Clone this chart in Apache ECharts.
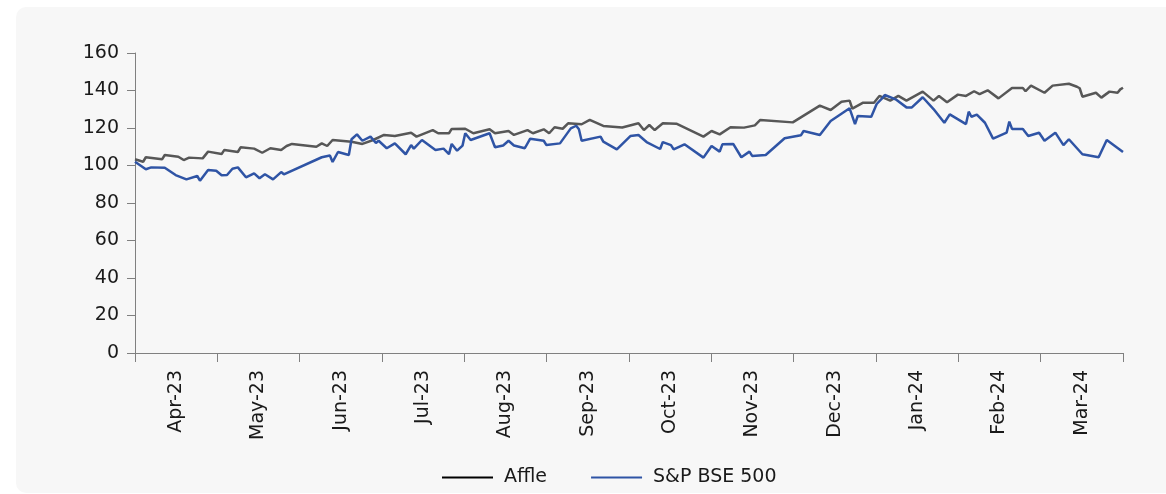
<!DOCTYPE html>
<html>
<head>
<meta charset="utf-8">
<title>Affle vs S&amp;P BSE 500</title>
<script src="https://cdn.jsdelivr.net/npm/echarts@6/dist/echarts.min.js"></script>
<style>
  html, body { margin: 0; padding: 0; background: #ffffff; }
  #card { position: absolute; left: 16px; top: 7px; right: 0; bottom: 1px;
          background: #f7f7f7; border-radius: 10px 0 0 10px; }
  #chart { position: absolute; left: 0; top: 0; width: 1166px; height: 494px; }
</style>
</head>
<body>
<div id="card"></div>
<div id="chart"></div>
<script>
// Month labels along the bottom axis
const months = ['Apr-23', 'May-23', 'Jun-23', 'Jul-23', 'Aug-23', 'Sep-23',
                'Oct-23', 'Nov-23', 'Dec-23', 'Jan-24', 'Feb-24', 'Mar-24'];

// Affle, rebased to 100
const affleDates = ['2023-04-01','2023-04-04','2023-04-05','2023-04-11','2023-04-12','2023-04-17','2023-04-19','2023-04-21','2023-04-26','2023-04-28',
  '2023-05-03','2023-05-04','2023-05-09','2023-05-10','2023-05-15','2023-05-18','2023-05-21','2023-05-25','2023-05-27','2023-05-29',
  '2023-06-07','2023-06-09','2023-06-11','2023-06-13','2023-06-20','2023-06-24','2023-06-28',
  '2023-07-02','2023-07-06','2023-07-12','2023-07-14','2023-07-20','2023-07-22','2023-07-26','2023-07-27',
  '2023-08-01','2023-08-04','2023-08-10','2023-08-12','2023-08-17','2023-08-19','2023-08-24','2023-08-26','2023-08-30',
  '2023-09-01','2023-09-03','2023-09-06','2023-09-08','2023-09-13','2023-09-16','2023-09-21','2023-09-28',
  '2023-10-04','2023-10-06','2023-10-08','2023-10-10','2023-10-13','2023-10-18','2023-10-28','2023-10-31',
  '2023-11-03','2023-11-07','2023-11-12','2023-11-16','2023-11-18','2023-11-30',
  '2023-12-10','2023-12-14','2023-12-18','2023-12-21','2023-12-22','2023-12-26','2023-12-30',
  '2024-01-01','2024-01-05','2024-01-08','2024-01-11','2024-01-17','2024-01-21','2024-01-23','2024-01-26','2024-01-30',
  '2024-02-02','2024-02-05','2024-02-07','2024-02-10','2024-02-14','2024-02-19','2024-02-23','2024-02-24','2024-02-26',
  '2024-03-02','2024-03-05','2024-03-11','2024-03-14','2024-03-15','2024-03-16','2024-03-21','2024-03-23','2024-03-26','2024-03-29','2024-03-30','2024-03-31'];
const affleValues = [103.3,102.0,104.4,103.3,105.6,104.7,102.9,104.2,103.8,107.4,
  106.1,108.3,107.2,109.7,109.0,106.8,109.2,108.3,110.4,111.5,
  110.0,111.8,110.4,113.6,112.7,111.5,113.6,
  116.3,115.7,117.5,115.4,118.9,117.2,117.2,119.5,
  119.6,117.2,119.3,117.2,118.4,116.3,118.9,117.2,119.3,
  117.2,120.4,119.6,122.5,122.0,124.3,121.1,120.3,
  122.5,118.9,121.6,118.9,122.5,122.3,115.4,118.4,
  116.6,120.4,120.2,121.4,124.3,123.0,
  131.9,129.6,134.0,134.6,130.3,133.5,133.5,
  137.1,134.6,137.1,134.6,139.4,134.6,137.1,133.7,137.8,
  137.1,139.6,138.1,140.1,135.8,141.3,141.3,139.6,142.6,
  138.8,142.6,143.6,142.0,141.2,136.7,138.8,136.2,139.4,138.8,140.6,141.5];

// S&P BSE 500, rebased to 100
const bseDates = ['2023-04-01','2023-04-05','2023-04-07','2023-04-12','2023-04-16','2023-04-20','2023-04-24','2023-04-25','2023-04-28',
  '2023-05-01','2023-05-03','2023-05-05','2023-05-07','2023-05-09','2023-05-12','2023-05-15','2023-05-17','2023-05-19','2023-05-22','2023-05-25','2023-05-26',
  '2023-06-09','2023-06-12','2023-06-13','2023-06-15','2023-06-19','2023-06-20','2023-06-22','2023-06-24','2023-06-27','2023-06-29','2023-06-30',
  '2023-07-03','2023-07-06','2023-07-10','2023-07-12','2023-07-13','2023-07-16','2023-07-21','2023-07-24','2023-07-26','2023-07-27','2023-07-29','2023-07-31',
  '2023-08-01','2023-08-03','2023-08-10','2023-08-12','2023-08-15','2023-08-17','2023-08-19','2023-08-23','2023-08-25','2023-08-30','2023-08-31',
  '2023-09-05','2023-09-09','2023-09-11','2023-09-12','2023-09-13','2023-09-20','2023-09-21','2023-09-26',
  '2023-10-01','2023-10-04','2023-10-07','2023-10-12','2023-10-13','2023-10-16','2023-10-17','2023-10-21','2023-10-28','2023-10-31',
  '2023-11-03','2023-11-04','2023-11-08','2023-11-11','2023-11-14','2023-11-15','2023-11-20','2023-11-27',
  '2023-12-03','2023-12-04','2023-12-10','2023-12-14','2023-12-21','2023-12-23','2023-12-24','2023-12-29','2023-12-31',
  '2024-01-02','2024-01-03','2024-01-07','2024-01-11','2024-01-13','2024-01-17','2024-01-21','2024-01-25','2024-01-27',
  '2024-02-02','2024-02-03','2024-02-04','2024-02-06','2024-02-09','2024-02-12','2024-02-17','2024-02-18','2024-02-19','2024-02-23','2024-02-25','2024-02-29',
  '2024-03-02','2024-03-06','2024-03-09','2024-03-11','2024-03-16','2024-03-22','2024-03-25','2024-03-31'];
const bseValues = [102.0,98.0,99.0,98.8,94.9,92.6,94.4,91.9,97.6,
  97.2,94.8,94.9,98.3,99.0,93.7,95.8,93.2,95.3,92.6,96.5,95.3,
  104.4,105.3,101.9,107.2,105.6,114.0,116.6,113.2,115.4,112.0,113.2,
  109.2,111.8,106.0,110.9,109.0,113.6,108.3,109.0,106.1,111.5,107.9,110.6,
  117.2,113.6,117.2,109.7,110.7,113.2,110.7,109.2,114.3,113.2,110.9,
  111.8,119.8,121.2,119.3,113.2,115.4,112.7,108.6,
  115.7,116.3,112.5,108.8,112.5,110.9,108.6,111.3,104.2,110.4,
  107.4,111.3,111.5,104.4,107.4,105.1,105.6,114.5,
  116.1,118.4,116.3,123.7,130.5,122.1,126.4,126.0,132.8,
  135.8,137.6,135.3,131.0,131.0,136.4,130.1,122.8,127.3,
  122.1,128.7,126.0,127.1,122.8,114.3,117.5,123.4,119.5,119.5,115.7,117.5,
  113.2,117.5,110.9,114.0,106.0,104.4,113.6,107.2];

const zip = (d, v) => d.map((x, i) => [x, v[i]]);

const FONT = 'DejaVu Sans';
const AXIS_GREY = '#808080';
const TEXT = '#1a1a1a';
const AFFLE_COLOR = '#575757';
const BSE_COLOR = '#2f54a5';

const chart = echarts.init(document.getElementById('chart'), null, { renderer: 'canvas' });

chart.setOption({
  backgroundColor: 'transparent',
  animation: false,
  textStyle: { fontFamily: FONT },
  grid: { left: 135, right: 43, top: 53, bottom: 141, containLabel: false },
  legend: {
    left: 437,
    top: 463,
    icon: 'rect',
    itemWidth: 51,
    itemHeight: 2,
    itemGap: 44,
    textStyle: { fontFamily: FONT, fontSize: 19, color: TEXT, padding: [0, 0, 0, 6] },
    data: [
      { name: 'Affle', itemStyle: { color: '#000000' } },
      { name: 'S&P BSE 500', itemStyle: { color: BSE_COLOR } }
    ]
  },
  xAxis: [
    {
      type: 'category',
      data: months,
      boundaryGap: true,
      position: 'bottom',
      axisLine: { show: true, lineStyle: { color: AXIS_GREY, width: 1 } },
      axisTick: { show: true, length: 9, lineStyle: { color: AXIS_GREY } },
      axisLabel: { rotate: 90, margin: 17, fontFamily: FONT, fontSize: 19, color: TEXT },
      splitLine: { show: false }
    },
    {
      type: 'time',
      min: '2023-04-01',
      max: '2024-03-31',
      show: false,
      splitLine: { show: false }
    }
  ],
  yAxis: {
    type: 'value',
    min: 0,
    max: 160,
    interval: 20,
    axisLine: { show: true, lineStyle: { color: AXIS_GREY, width: 1 } },
    axisTick: { show: true, length: 8, lineStyle: { color: AXIS_GREY } },
    axisLabel: { margin: 16, fontFamily: FONT, fontSize: 19, color: TEXT },
    splitLine: { show: false }
  },
  series: [
    {
      name: 'Affle',
      type: 'line',
      xAxisIndex: 1,
      symbol: 'none',
      data: zip(affleDates, affleValues),
      lineStyle: { color: AFFLE_COLOR, width: 2.5 },
      itemStyle: { color: AFFLE_COLOR }
    },
    {
      name: 'S&P BSE 500',
      type: 'line',
      xAxisIndex: 1,
      symbol: 'none',
      data: zip(bseDates, bseValues),
      lineStyle: { color: BSE_COLOR, width: 2.5 },
      itemStyle: { color: BSE_COLOR }
    }
  ]
});
</script>
</body>
</html>
